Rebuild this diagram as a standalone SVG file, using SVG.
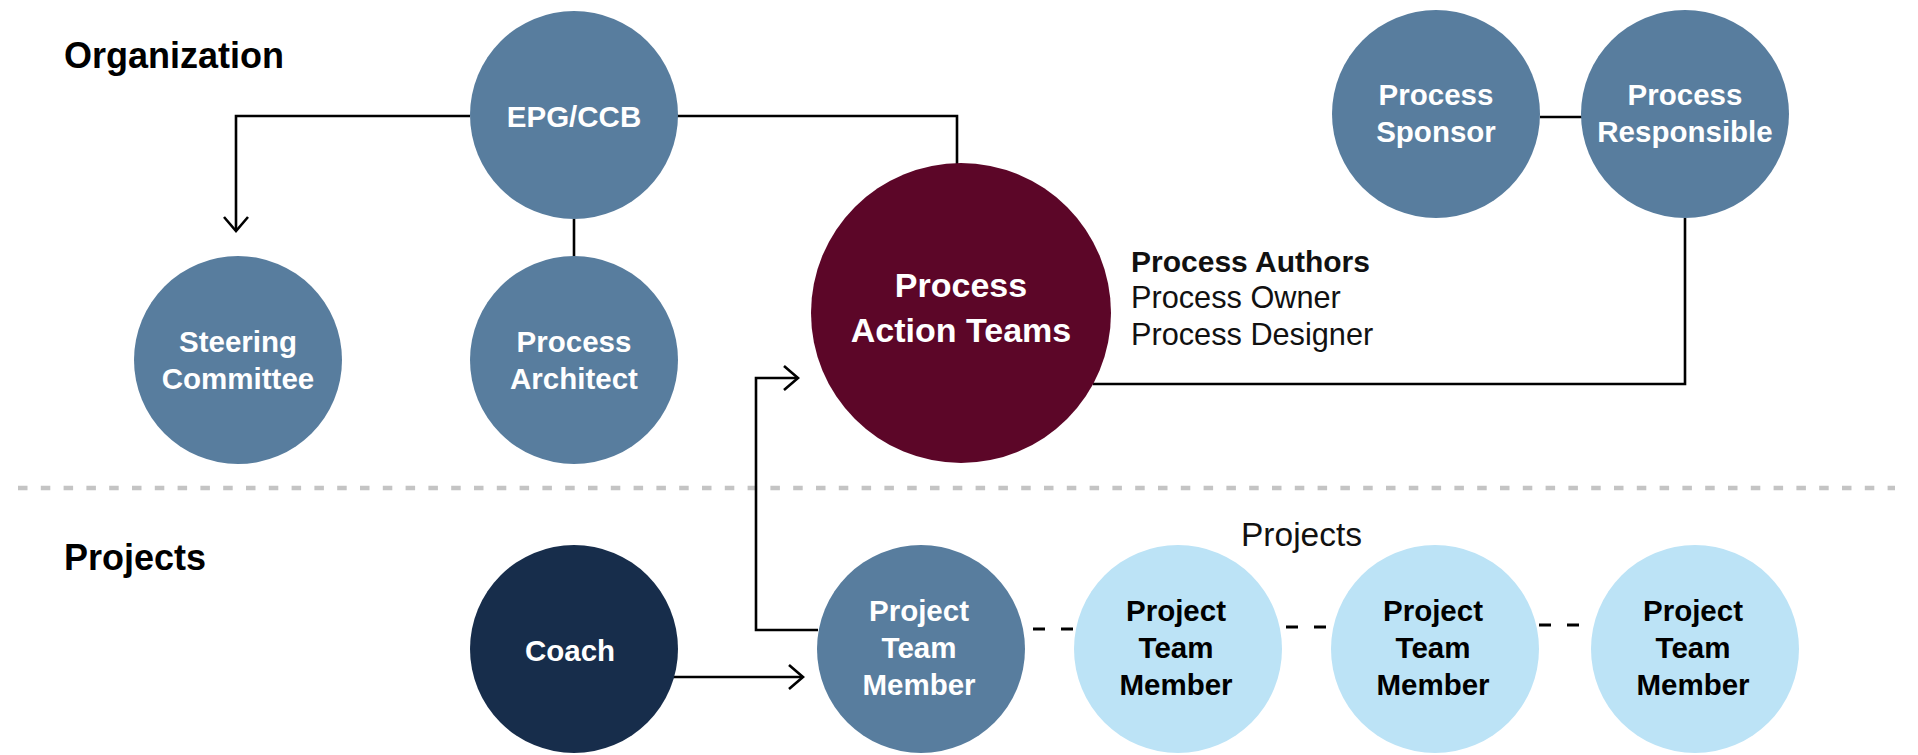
<svg xmlns="http://www.w3.org/2000/svg" width="1918" height="755" viewBox="0 0 1918 755">
  <style>
    .steel { fill: #587d9e; }
    .maroon { fill: #5c0628; }
    .navy { fill: #172d4b; }
    .light { fill: #bce3f6; }
    .lbl { font-family: "Liberation Sans", Arial, sans-serif; font-weight: bold; font-size: 29.5px; text-anchor: middle; fill: #ffffff; }
    .lbl.dark { fill: #000000; }
    .lbl.big { font-size: 34px; }
    .head { font-family: "Liberation Sans", Arial, sans-serif; font-weight: bold; font-size: 36px; fill: #000000; }
    .note { font-family: "Liberation Sans", Arial, sans-serif; font-size: 30.7px; fill: #111111; }
    .note.b { font-weight: bold; font-size: 30px; }
    .note.tag { font-size: 33.5px; }
    .wire { fill: none; stroke: #000000; stroke-width: 2.6; }
    .dash { fill: none; stroke: #000000; stroke-width: 3; stroke-dasharray: 12 16; }
    .sep { fill: none; stroke: #c4c4c4; stroke-width: 4.5; stroke-dasharray: 9.5 13.3; }
  </style>
  <defs>
    <marker id="chev" markerUnits="userSpaceOnUse" viewBox="-17 -15 20 30" markerWidth="20" markerHeight="30" refX="0" refY="0" orient="auto">
      <path d="M-14,-12 L0,0 L-14,12" fill="none" stroke="#000000" stroke-width="2.6"/>
    </marker>
  </defs>

  <!-- section headings and divider -->
  <text class="head" x="64" y="68">Organization</text>
  <text class="head" x="64" y="570">Projects</text>
  <line class="sep" x1="18" y1="488" x2="1895" y2="488"/>

  <!-- connectors -->
  <g id="connectors">
    <polyline class="wire" points="470,116 236,116 236,231" marker-end="url(#chev)"/>
    <line class="wire" x1="574" y1="219" x2="574" y2="257"/>
    <polyline class="wire" points="677,116 957,116 957,178"/>
    <polyline class="wire" points="1093,384 1685,384 1685,218"/>
    <line class="wire" x1="1540" y1="117" x2="1582" y2="117"/>
    <polyline class="wire" points="818,630 756,630 756,378 798,378" marker-end="url(#chev)"/>
    <line class="wire" x1="660" y1="677" x2="803" y2="677" marker-end="url(#chev)"/>
    <line class="dash" x1="1033" y1="629" x2="1075" y2="629"/>
    <line class="dash" x1="1286" y1="627" x2="1328" y2="627"/>
    <line class="dash" x1="1539" y1="625" x2="1581" y2="625"/>
  </g>

  <!-- organization nodes -->
  <g id="epg-ccb">
    <circle class="steel" cx="574" cy="115" r="104"/>
    <text class="lbl" x="574" y="127">EPG/CCB</text>
  </g>
  <g id="steering-committee">
    <circle class="steel" cx="238" cy="360" r="104"/>
    <text class="lbl" x="238" y="352">Steering</text>
    <text class="lbl" x="238" y="389">Committee</text>
  </g>
  <g id="process-architect">
    <circle class="steel" cx="574" cy="360" r="104"/>
    <text class="lbl" x="574" y="352">Process</text>
    <text class="lbl" x="574" y="389">Architect</text>
  </g>
  <g id="process-action-teams">
    <circle class="maroon" cx="961" cy="313" r="150"/>
    <text class="lbl big" x="961" y="297">Process</text>
    <text class="lbl big" x="961" y="342">Action Teams</text>
  </g>
  <g id="process-authors">
    <text class="note b" x="1131" y="272">Process Authors</text>
    <text class="note" x="1131" y="308">Process Owner</text>
    <text class="note" x="1131" y="345">Process Designer</text>
  </g>
  <g id="process-sponsor">
    <circle class="steel" cx="1436" cy="114" r="104"/>
    <text class="lbl" x="1436" y="105">Process</text>
    <text class="lbl" x="1436" y="142">Sponsor</text>
  </g>
  <g id="process-responsible">
    <circle class="steel" cx="1685" cy="114" r="104"/>
    <text class="lbl" x="1685" y="105">Process</text>
    <text class="lbl" x="1685" y="142">Responsible</text>
  </g>

  <!-- project nodes -->
  <g id="coach">
    <circle class="navy" cx="574" cy="649" r="104"/>
    <text class="lbl" x="570" y="661">Coach</text>
  </g>
  <g id="project-team-member-1">
    <circle class="steel" cx="921" cy="649" r="104"/>
    <text class="lbl" x="919" y="621">Project</text>
    <text class="lbl" x="919" y="658">Team</text>
    <text class="lbl" x="919" y="695">Member</text>
  </g>
  <text class="note tag" x="1241" y="546">Projects</text>
  <g id="project-team-member-2">
    <circle class="light" cx="1178" cy="649" r="104"/>
    <text class="lbl dark" x="1176" y="621">Project</text>
    <text class="lbl dark" x="1176" y="658">Team</text>
    <text class="lbl dark" x="1176" y="695">Member</text>
  </g>
  <g id="project-team-member-3">
    <circle class="light" cx="1435" cy="649" r="104"/>
    <text class="lbl dark" x="1433" y="621">Project</text>
    <text class="lbl dark" x="1433" y="658">Team</text>
    <text class="lbl dark" x="1433" y="695">Member</text>
  </g>
  <g id="project-team-member-4">
    <circle class="light" cx="1695" cy="649" r="104"/>
    <text class="lbl dark" x="1693" y="621">Project</text>
    <text class="lbl dark" x="1693" y="658">Team</text>
    <text class="lbl dark" x="1693" y="695">Member</text>
  </g>
</svg>
